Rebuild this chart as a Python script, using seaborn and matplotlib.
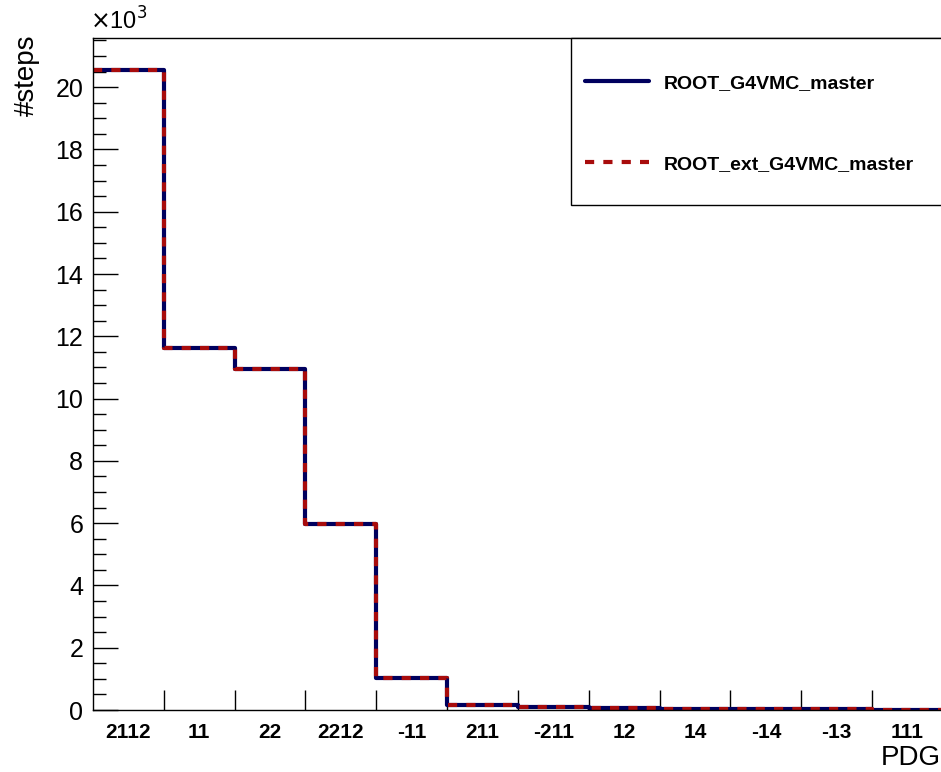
import numpy as np
import pandas as pd
import matplotlib
matplotlib.use("Agg")
import matplotlib.pyplot as plt
from matplotlib.ticker import FixedLocator, FuncFormatter, MultipleLocator
from matplotlib.patches import Rectangle
from matplotlib.lines import Line2D
import seaborn as sns

# ---- data ----
pdg_codes = ["2112", "11", "22", "2212", "-11", "211", "-211", "12", "14", "-14", "-13", "111"]
steps_root_g4vmc = [20550, 11620, 10950, 5970, 1030, 160, 100, 50, 30, 20, 20, 10]
steps_root_ext_g4vmc = [20550, 11620, 10950, 5970, 1030, 160, 100, 50, 30, 20, 20, 10]
series_names = ["ROOT_G4VMC_master", "ROOT_ext_G4VMC_master"]

sns.set_style("ticks")
plt.rcParams["font.family"] = ["Liberation Sans", "DejaVu Sans"]
plt.rcParams.update({"text.color": "black", "axes.labelcolor": "black",
                     "xtick.color": "black", "ytick.color": "black",
                     "axes.edgecolor": "black"})

n = len(pdg_codes)
pos = np.arange(n) + 0.5
edges = np.arange(n + 1)

df = pd.DataFrame({
    "pos": np.concatenate([pos, pos]),
    "steps": steps_root_g4vmc + steps_root_ext_g4vmc,
    "source": [series_names[0]] * n + [series_names[1]] * n,
})

W, H = 941, 772
fig = plt.figure(figsize=(W / 100, H / 100), dpi=100)
ax = fig.add_axes([93 / W, 1 - 710 / H, (941 - 93) / W + 0.002, (710 - 38) / H])

blue = "#00005e"
red = "#a80c0c"
sns.histplot(data=df[df.source == series_names[0]], x="pos", weights="steps",
             bins=n, binrange=(0, n), element="step", fill=False, color=blue,
             linewidth=3.0, ax=ax, legend=False)
sns.histplot(data=df[df.source == series_names[1]], x="pos", weights="steps",
             bins=n, binrange=(0, n), element="step", fill=False, color=red,
             linewidth=3.0, linestyle=(0, (2.2, 2.2)), ax=ax, legend=False)

ax.set_xlim(0, n)
ax.set_ylim(0, 21580)

# y axis
ax.yaxis.set_major_locator(MultipleLocator(2000))
ax.yaxis.set_minor_locator(MultipleLocator(500))
ax.yaxis.set_major_formatter(FuncFormatter(lambda v, p: f"{v/1000:g}"))
ax.tick_params(axis="y", which="major", direction="in", length=18, width=1.0,
               labelsize=18, pad=7, labelcolor="black")
ax.tick_params(axis="y", which="minor", direction="in", length=9.5, width=1.0)

# x axis: ticks at bin edges, labels at centers
ax.xaxis.set_major_locator(FixedLocator(edges[1:-1]))
ax.xaxis.set_major_formatter(FuncFormatter(lambda v, p: ""))
ax.set_xticks(pos, labels=pdg_codes, minor=True)
ax.tick_params(axis="x", which="major", direction="in", length=14.5, width=1.0)
ax.tick_params(axis="x", which="minor", length=0, labelsize=15, pad=9,
               labelcolor="black")
for lbl in ax.get_xticklabels(minor=True):
    lbl.set_fontweight("bold")

for s in ["left", "bottom", "top", "right"]:
    ax.spines[s].set_linewidth(1.0)
    ax.spines[s].set_color("black")
ax.spines["right"].set_color("#bbbbbb")

ax.set_xlabel("")
ax.set_ylabel("")
fig.text(14 / W, 1 - 35 / H, "#steps", rotation=90, ha="left", va="top", fontsize=20)
fig.text(941 / W, 1 - 771 / H, "PDG", ha="right", va="bottom", fontsize=20)
fig.text(90 / W, 1 - 35 / H, r"$\times$10$^{3}$", ha="left", va="bottom", fontsize=17)

# legend box
ax.add_patch(Rectangle((0.5625, 0.7515), 0.4375, 0.2485, transform=ax.transAxes,
                       facecolor="white", edgecolor="black", linewidth=1.0,
                       zorder=5, clip_on=False))
handles = [Line2D([], [], color=blue, linewidth=3.0),
           Line2D([], [], color=red, linewidth=3.0, linestyle=(0, (2.2, 2.2)))]
leg = ax.legend(handles, series_names, loc="upper left",
                bbox_to_anchor=((584 - 93) / 848, 1 - (74 - 38) / 672),
                frameon=False, handlelength=3.3, handletextpad=0.75,
                labelspacing=3.27, borderaxespad=0, borderpad=0,
                prop={"weight": "bold", "size": 14})
leg.set_zorder(6)

fig.savefig("out.png", dpi=100)
